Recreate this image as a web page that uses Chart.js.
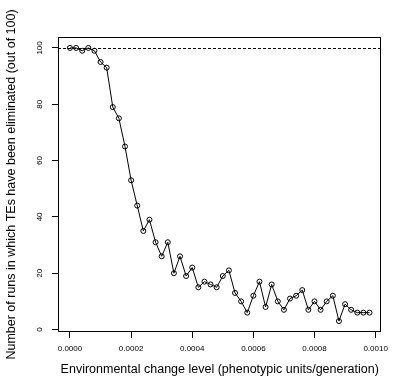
<!DOCTYPE html>
<html>
<head>
<meta charset="utf-8">
<script src="https://cdn.jsdelivr.net/npm/chart.js@4/dist/chart.umd.min.js"></script>
<style>
  html, body { margin: 0; padding: 0; background: #fff; }
  canvas { display: block; }
</style>
</head>
<body>
<canvas id="chart" width="394" height="382"></canvas>
<script>
// environmental change level (x) and number of runs with TEs eliminated (y)
const changeLevels = [
  0.00000, 0.00002, 0.00004, 0.00006, 0.00008, 0.00010, 0.00012, 0.00014, 0.00016, 0.00018,
  0.00020, 0.00022, 0.00024, 0.00026, 0.00028, 0.00030, 0.00032, 0.00034, 0.00036, 0.00038,
  0.00040, 0.00042, 0.00044, 0.00046, 0.00048, 0.00050, 0.00052, 0.00054, 0.00056, 0.00058,
  0.00060, 0.00062, 0.00064, 0.00066, 0.00068, 0.00070, 0.00072, 0.00074, 0.00076, 0.00078,
  0.00080, 0.00082, 0.00084, 0.00086, 0.00088, 0.00090, 0.00092, 0.00094, 0.00096, 0.00098
];
const runsEliminated = [
  100, 100, 99, 100, 99, 95, 93, 79, 75, 65,
  53, 44, 35, 39, 31, 26, 31, 20, 26, 19,
  22, 15, 17, 16, 15, 19, 21, 13, 10, 6,
  12, 17, 8, 16, 10, 7, 11, 12, 14, 7,
  10, 7, 10, 12, 3, 9, 7, 6, 6, 6
];
const xTicks = [0.0000, 0.0002, 0.0004, 0.0006, 0.0008, 0.0010];
const yTicks = [0, 20, 40, 60, 80, 100];
const refLevel = 100;

const FONT = '"Liberation Sans", Arial, Helvetica, sans-serif';
Chart.defaults.font.family = FONT;
Chart.defaults.color = '#000';

// R style range: data range extended by 4% on each side
function rRange(vals) {
  const lo = Math.min(...vals), hi = Math.max(...vals);
  const pad = (hi - lo) * 0.04;
  return [lo - pad, hi + pad];
}
const [xMin, xMax] = rRange(changeLevels);
const [yMin, yMax] = rRange(runsEliminated);

const points = changeLevels.map((x, i) => ({ x: x, y: runsEliminated[i] }));

// box, dashed reference line and rotated y tick labels
const framePlugin = {
  id: 'frame',
  beforeDatasetsDraw(chart) {
    const { ctx, chartArea: a, scales } = chart;
    ctx.save();
    ctx.strokeStyle = '#000';
    ctx.lineWidth = 1;

    const ry = Math.round(scales.y.getPixelForValue(refLevel)) + 0.5;
    ctx.setLineDash([3, 2]);
    ctx.beginPath();
    ctx.moveTo(a.left, ry);
    ctx.lineTo(a.right, ry);
    ctx.stroke();
    ctx.setLineDash([]);

    ctx.strokeRect(Math.round(a.left) + 0.5, Math.round(a.top) + 0.5,
      Math.round(a.width) - 1, Math.round(a.height) - 1);

    ctx.fillStyle = '#000';
    ctx.font = '8px ' + FONT;
    ctx.textAlign = 'center';
    ctx.textBaseline = 'middle';
    yTicks.forEach(v => {
      const py = scales.y.getPixelForValue(v);
      ctx.save();
      ctx.translate(40, py);
      ctx.rotate(-Math.PI / 2);
      ctx.fillText(String(v), 0, 0);
      ctx.restore();
    });
    ctx.restore();
  }
};

const ctx = document.getElementById('chart').getContext('2d');
new Chart(ctx, {
  type: 'scatter',
  data: {
    datasets: [{
      data: points,
      showLine: true,
      borderColor: '#000',
      borderWidth: 1,
      pointStyle: 'circle',
      pointRadius: 2.5,
      pointBorderWidth: 1,
      pointBorderColor: '#000',
      pointBackgroundColor: 'rgba(0,0,0,0)',
      tension: 0
    }]
  },
  options: {
    responsive: false,
    animation: false,
    devicePixelRatio: 1,
    layout: { padding: { top: 37, right: 8, left: 0, bottom: 0 } },
    plugins: { legend: { display: false }, tooltip: { enabled: false } },
    scales: {
      x: {
        type: 'linear',
        min: xMin,
        max: xMax,
        afterBuildTicks: s => { s.ticks = xTicks.map(v => ({ value: v })); },
        afterFit: s => { s.height = 50; },
        border: { display: false },
        grid: { drawOnChartArea: false, drawTicks: true, tickLength: 6, color: '#000' },
        ticks: {
          font: { size: 8 },
          color: '#000',
          padding: 6,
          maxRotation: 0,
          autoSkip: false,
          callback: v => Number(v).toFixed(4)
        },
        title: {
          display: true,
          text: 'Environmental change level (phenotypic units/generation)',
          font: { size: 12.5 },
          color: '#000',
          padding: { top: 0, bottom: 4.5 }
        }
      },
      y: {
        type: 'linear',
        min: yMin,
        max: yMax,
        afterBuildTicks: s => { s.ticks = yTicks.map(v => ({ value: v })); },
        afterFit: s => { s.width = 58; },
        border: { display: false },
        grid: { drawOnChartArea: false, drawTicks: true, tickLength: 6, color: '#000' },
        ticks: { display: false },
        title: {
          display: true,
          text: 'Number of runs in which TEs have been eliminated (out of 100)',
          font: { size: 12.5 },
          color: '#000',
          padding: { top: 4.5, bottom: 0 }
        }
      }
    }
  },
  plugins: [framePlugin]
});
</script>
</body>
</html>
